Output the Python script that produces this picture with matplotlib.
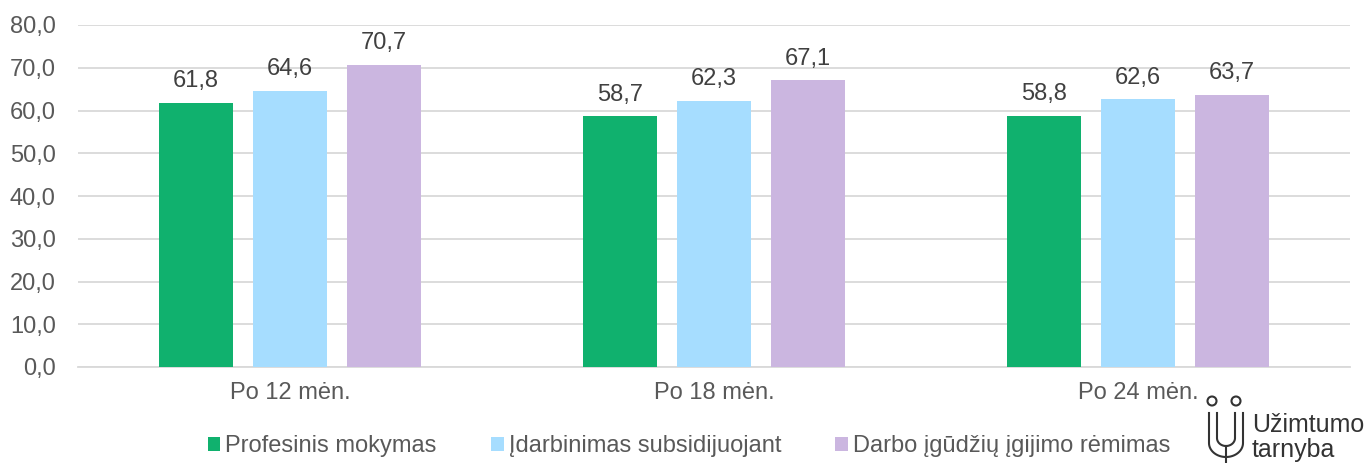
import matplotlib
matplotlib.use("Agg")
import matplotlib.pyplot as plt
import numpy as np
from matplotlib.patches import Circle

plt.rcParams['font.family'] = ['Liberation Sans', 'DejaVu Sans']

categories = ["Po 12 mėn.", "Po 18 mėn.", "Po 24 mėn."]
series_names = ["Profesinis mokymas", "Įdarbinimas subsidijuojant", "Darbo įgūdžių įgijimo rėmimas"]
values = [
    [61.8, 58.7, 58.8],
    [64.6, 62.3, 62.6],
    [70.7, 67.1, 63.7],
]
colors = ["#10b16e", "#a6ddff", "#cbb6e0"]
yticks = [0, 10, 20, 30, 40, 50, 60, 70, 80]

fig = plt.figure(figsize=(13.7, 4.63), dpi=100)
ax = fig.add_axes([78/1370, 1-367/463, (1350-78)/1370, (367-25)/463])

x = np.arange(len(categories))
width = 0.1745
step = 0.2217
txt = "#595959"
fs = 17
for i, (name, vals, c) in enumerate(zip(series_names, values, colors)):
    pos = x + (i - 1) * step
    bars = ax.bar(pos, vals, width=width, color=c, label=name, zorder=3)
    for b, v in zip(bars, vals):
        ax.text(b.get_x() + b.get_width()/2, v + 3.6, f"{v:.1f}".replace(".", ","),
                ha="center", va="baseline", fontsize=fs, color="#404040")

ax.set_ylim(0, 80)
ax.set_xlim(-0.5, 2.5)
ax.set_yticks(yticks)
ax.set_yticklabels([f"{t:.1f}".replace(".", ",") for t in yticks], fontsize=fs, color=txt)
ax.set_xticks(x)
ax.set_xticklabels(categories, fontsize=fs, color=txt)
ax.tick_params(axis="y", length=0, pad=16)
ax.tick_params(axis="x", length=0, pad=11)
ax.yaxis.grid(True, color="#d9d9d9", linewidth=1.3, zorder=0)
for s in ["top", "right", "left"]:
    ax.spines[s].set_visible(False)
ax.spines["bottom"].set_color("#d9d9d9")
ax.spines["bottom"].set_linewidth(1.3)

leg = fig.legend(loc="center", bbox_to_anchor=(689/1370, 1-446/463), ncol=3, frameon=False,
                 fontsize=fs, handlelength=0.55, handleheight=0.55, handletextpad=0.2,
                 columnspacing=2.3)
for t in leg.get_texts():
    t.set_color(txt)

# logo
lc = "#333333"
fig.text(1252/1370, 1-425/463, "Užimtumo", fontsize=18, color=lc, va="center", ha="left")
fig.text(1252/1370, 1-450/463, "tarnyba", fontsize=18, color=lc, va="center", ha="left")
lax = fig.add_axes([1200/1370, 0, 50/1370, 70/463])
lax.set_xlim(0, 50)
lax.set_ylim(70, 0)
lax.axis("off")
lax.add_patch(Circle((12, 8), 4.5, fill=False, ec=lc, lw=1.5))
lax.add_patch(Circle((36, 8), 4.5, fill=False, ec=lc, lw=1.5))
t = np.linspace(np.pi, 2*np.pi, 40)
ox = 26 + 17*np.cos(t)
oy = 50 - 14*np.sin(t)
lax.plot(np.r_[9, ox, 43], np.r_[20, oy, 20], color=lc, lw=1.5)
ix = 26 + 9*np.cos(t)
iy = 45 - 8*np.sin(t)
lax.plot(np.r_[17, ix, 35], np.r_[20, iy, 20], color=lc, lw=1.5)
lax.plot([26, 26], [53, 70], color=lc, lw=1.5)

fig.savefig("out.png", dpi=100)
